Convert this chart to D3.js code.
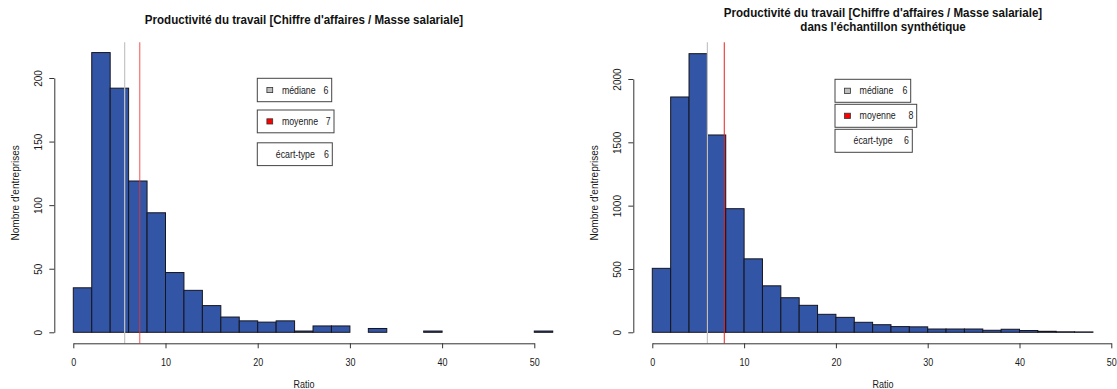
<!DOCTYPE html>
<html>
<head>
<meta charset="utf-8">
<script src="https://cdn.jsdelivr.net/npm/d3@7/dist/d3.min.js"></script>
<style>
  html, body { margin: 0; padding: 0; background: #fff; }
  svg { display: block; font-family: "Liberation Sans", Arial, sans-serif; }
</style>
</head>
<body>
<svg id="chart" width="1117" height="389"></svg>
<script>
// ---- data ----------------------------------------------------------------
const binWidth = 2;
// counts per 2-unit bin, starting at 0
const countsObserved  = [35, 220, 192, 119, 94, 47, 33, 21, 12, 9, 8, 9, 1, 5, 5, 0, 3, 0, 0, 1, 0, 0, 0, 0, 0, 1];
const countsSynthetic = [505, 1858, 2200, 1558, 976, 580, 367, 273, 213, 142, 118, 79, 60, 45, 43, 26, 26, 26, 16, 24, 14, 8, 4, 3];
const medians = [5.57, 6.0];
const means   = [7.2, 7.84];
const sds     = [6.1, 6.2];
const xTickValues = [0, 10, 20, 30, 40, 50];
const yTicksObserved  = [0, 50, 100, 150, 200];
const yTicksSynthetic = [0, 500, 1000, 1500, 2000];
const titleLines = [
  ["Productivité du travail [Chiffre d'affaires / Masse salariale]"],
  ["Productivité du travail [Chiffre d'affaires / Masse salariale]", "dans l'échantillon synthétique"]
];
const legendLabels = ["médiane", "moyenne", "écart-type"];
const xLabel = "Ratio";
const yLabel = "Nombre d'entreprises";

// ---- layout --------------------------------------------------------------
const SX = 0.9;               // horizontal squeeze of upright text
const SX_TITLE = 0.965;
const barFill = "#3355a5";
const axisColor = "#333";

const panels = [
  {
    counts: countsObserved, median: medians[0], mean: means[0], sd: sds[0],
    titles: titleLines[0], titleY: [24],
    xRange: [73.3, 534.3], yRange: [332.3, 78], yMax: 200, yTicks: yTicksObserved,
    axisLeft: 54.3, center: 304,
    legend: { left: 257.3, tops: [78.3, 110, 142.8], bottoms: [101.7, 132.8, 165.6], rights: [331.7, 334, 332.3] },
    meanStroke: { color: "#ee3333", width: 1.4, opacity: 0.6 }
  },
  {
    counts: countsSynthetic, median: medians[1], mean: means[1], sd: sds[1],
    titles: titleLines[1], titleY: [16.7, 30.7],
    xRange: [652.3, 1111.3], yRange: [332.3, 79], yMax: 2000, yTicks: yTicksSynthetic,
    axisLeft: 633.3, center: 883,
    legend: { left: 835, tops: [79.3, 104.3, 129.3], bottoms: [102.3, 127.3, 152.3], rights: [910.7, 916.7, 912.3] },
    meanStroke: { color: "#e82020", width: 1, opacity: 1 }
  }
];
const plotTop = 42.3, plotBottom = 343.3;

const svg = d3.select("#chart");

function hText(g, x, y, str, attrs, sx) {
  const t = g.append("text")
    .attr("transform", `translate(${x},${y}) scale(${sx || SX},1)`)
    .text(str);
  Object.entries(attrs || {}).forEach(([k, v]) => t.attr(k, v));
  return t;
}

panels.forEach(p => {
  const g = svg.append("g");
  const x = d3.scaleLinear().domain([0, 50]).range(p.xRange);
  const y = d3.scaleLinear().domain([0, p.yMax]).range(p.yRange);

  const bins = p.counts.map((c, i) => ({ x0: i * binWidth, x1: (i + 1) * binWidth, n: c }));

  // histogram bars
  g.append("g").selectAll("rect").data(bins).join("rect")
    .attr("x", d => x(d.x0))
    .attr("y", d => y(d.n))
    .attr("width", d => x(d.x1) - x(d.x0))
    .attr("height", d => y(0) - y(d.n))
    .attr("fill", barFill)
    .attr("stroke", "#15151f")
    .attr("stroke-width", 1);

  // median and mean reference lines
  g.append("line")
    .attr("x1", x(p.median)).attr("x2", x(p.median))
    .attr("y1", plotTop).attr("y2", plotBottom)
    .attr("stroke", "#c4c4c4").attr("stroke-width", 1.2);
  g.append("line")
    .attr("x1", x(p.mean)).attr("x2", x(p.mean))
    .attr("y1", plotTop).attr("y2", plotBottom)
    .attr("stroke", p.meanStroke.color).attr("stroke-width", p.meanStroke.width)
    .attr("stroke-opacity", p.meanStroke.opacity);

  // x axis
  const gx = g.append("g")
    .attr("transform", `translate(0,${plotBottom})`)
    .call(d3.axisBottom(x).tickValues(xTickValues).tickSize(5).tickSizeOuter(0).tickFormat(d3.format("d")));
  gx.select(".domain").attr("stroke", axisColor);
  gx.selectAll(".tick line").attr("stroke", axisColor);
  gx.selectAll(".tick text")
    .attr("y", 0).attr("dy", null)
    .attr("transform", `translate(0,22.4) scale(${SX},1)`)
    .attr("font-size", 10).attr("fill", "#1a1a1a")
    .attr("font-family", "Liberation Sans, Arial, sans-serif");

  // y axis
  const gy = g.append("g")
    .attr("transform", `translate(${p.axisLeft},0)`)
    .call(d3.axisLeft(y).tickValues(p.yTicks).tickSize(5).tickSizeOuter(0).tickFormat(d3.format("d")));
  gy.select(".domain").attr("stroke", axisColor);
  gy.selectAll(".tick line").attr("stroke", axisColor);
  gy.selectAll(".tick text")
    .attr("x", 0).attr("y", -12.6).attr("dy", null)
    .attr("transform", "rotate(-90)")
    .attr("text-anchor", "middle")
    .attr("font-size", 10).attr("fill", "#1a1a1a")
    .attr("font-family", "Liberation Sans, Arial, sans-serif");

  // titles
  p.titles.forEach((line, i) => {
    hText(g, p.center, p.titleY[i], line, {
      "text-anchor": "middle", "font-size": 12, "font-weight": "bold", fill: "#111"
    }, SX_TITLE);
  });

  // axis titles
  hText(g, p.center, 388, xLabel, { "text-anchor": "middle", "font-size": 10, fill: "#1a1a1a" });
  g.append("text")
    .attr("transform", `translate(${p.axisLeft - 35.7},${(plotTop + plotBottom) / 2}) rotate(-90)`)
    .attr("text-anchor", "middle").attr("font-size", 10).attr("fill", "#1a1a1a")
    .text(yLabel);

  // legend boxes: median, mean, standard deviation
  const L = p.legend;
  const items = [
    { label: legendLabels[0], value: Math.round(p.median), swatch: "#bebebe" },
    { label: legendLabels[1], value: Math.round(p.mean), swatch: "#ff0000" },
    { label: legendLabels[2], value: Math.round(p.sd), swatch: null }
  ];
  items.forEach((it, i) => {
    const top = L.tops[i], bottom = L.bottoms[i], right = L.rights[i];
    const cy = (top + bottom) / 2;
    g.append("rect")
      .attr("x", L.left).attr("y", top)
      .attr("width", right - L.left).attr("height", bottom - top)
      .attr("fill", "#fff").attr("stroke", "#444").attr("stroke-width", 1);
    if (it.swatch) {
      g.append("rect")
        .attr("x", L.left + 9.6).attr("y", cy - 2.6)
        .attr("width", 5.8).attr("height", 5.2)
        .attr("fill", it.swatch).attr("stroke", "#333").attr("stroke-width", 0.8);
    }
    const lx = it.swatch ? L.left + 24.6 : L.left + 18.5;
    hText(g, lx, cy + 3.6, it.label, { "font-size": 10, fill: "#1a1a1a" }, 0.88);
    hText(g, right - 3.4, cy + 3.6, String(it.value), { "font-size": 10, fill: "#1a1a1a", "text-anchor": "end" }, 0.88);
  });
});
</script>
</body>
</html>
